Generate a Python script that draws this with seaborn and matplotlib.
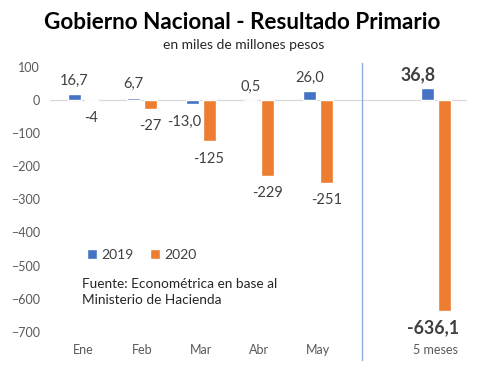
import seaborn as sns
import pandas as pd
import matplotlib.pyplot as plt

meses = ["Ene", "Feb", "Mar", "Abr", "May", "5 meses"]
v2019 = [16.7, 6.7, -13.0, 0.5, 26.0, 36.8]
v2020 = [-4, -27, -125, -229, -251, -636.1]
etiq2019 = ["16,7", "6,7", "-13,0", "0,5", "26,0", "36,8"]
etiq2020 = ["-4", "-27", "-125", "-229", "-251", "-636,1"]

sns.set_style("white")
plt.rcParams["font.family"] = ["Lato", "DejaVu Sans"]

df = pd.DataFrame({
    "mes": meses * 2,
    "valor": v2019 + v2020,
    "anio": ["2019"] * 6 + ["2020"] * 6,
})
orden = meses[:5] + [" "] + meses[5:]

fig = plt.figure(figsize=(4.8, 3.68), dpi=100)
ax = fig.add_axes([0.104, 0.098, 0.869, 0.721])

sns.barplot(data=df, x="mes", y="valor", hue="anio", order=orden,
            palette=["#4472C4", "#ED7D31"], width=0.58, gap=0.24,
            saturation=1, ax=ax, zorder=3)

ax.axhline(0, color="#D9D9D9", lw=0.9, zorder=1)
ax.axvline(4.745, ymin=-0.105, ymax=1.012, color="#8FAADC", lw=1.0,
           clip_on=False)

# etiquetas de datos
for cont, etiq in zip(ax.containers, [etiq2019, etiq2020]):
    for i, (bar, txt) in enumerate(zip(cont, etiq)):
        x = bar.get_x() + bar.get_width() / 2
        y = bar.get_height()
        total = i == len(etiq) - 1
        dy = 9.5 if y > 0 else -12.5
        dx = -6 if (0 > y > -50 and cont is ax.containers[0]) else 0
        if total:
            dx = -7 if y > 0 else -8
        ax.annotate(txt, (x, y), xytext=(dx, dy), textcoords="offset points",
                    ha="center", va="center",
                    fontsize=12.8 if total else 10.5,
                    fontweight="bold" if total else "normal",
                    color="#404040", zorder=2)

ax.set_ylim(-700, 100)
ax.set_xlim(-0.561, 6.53)
ax.set_yticks(range(-700, 101, 100))
ax.set_xlabel("")
ax.set_ylabel("")
ax.tick_params(axis="y", length=0, pad=7, labelsize=9, labelcolor="#595959")
ax.tick_params(axis="x", length=0, pad=9, labelsize=9, labelcolor="#595959")
sns.despine(left=True, bottom=True)

ax.legend(loc="center", bbox_to_anchor=(0.22, 0.29), ncol=2, frameon=False,
          handlelength=0.7, handleheight=0.7, handletextpad=0.3,
          columnspacing=1.2, fontsize=10, labelcolor="#404040")

ax.text(0.077, 0.205, "Fuente: Econométrica en base al\nMinisterio de Hacienda",
        transform=ax.transAxes, fontsize=9.8, color="#262626",
        va="top", ha="left", linespacing=1.4)

fig.text(0.505, 0.94, "Gobierno Nacional - Resultado Primario",
         ha="center", va="center", fontsize=16.2, fontweight="bold",
         color="#000000")
fig.text(0.507, 0.878, "en miles de millones pesos", ha="center",
         va="center", fontsize=10, color="#262626")

fig.savefig("out.png", dpi=100)
